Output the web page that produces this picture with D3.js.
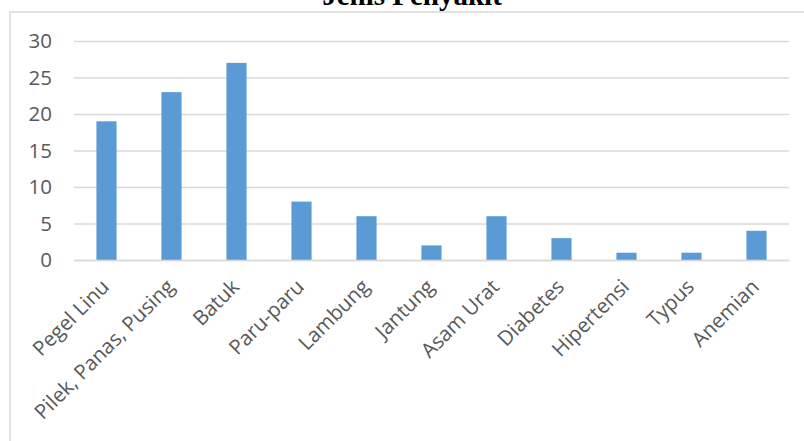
<!DOCTYPE html>
<html>
<head>
<meta charset="utf-8">
<script src="https://cdn.jsdelivr.net/npm/d3@7"></script>
<style>
  html, body { margin: 0; padding: 0; background: #fff; }
  svg { display: block; }
</style>
</head>
<body>
<svg id="chart" width="804" height="441"></svg>
<script>
// Jumlah kasus per jenis penyakit
const categories = ["Pegel Linu", "Pilek, Panas, Pusing", "Batuk", "Paru-paru", "Lambung",
  "Jantung", "Asam Urat", "Diabetes", "Hipertensi", "Typus", "Anemian"];
const values = [19, 23, 27, 8, 6, 2, 6, 3, 1, 1, 4];
const yTicks = [0, 5, 10, 15, 20, 25, 30];
const title = "Jenis Penyakit";

const svg = d3.select("#chart");
const W = 804, H = 441;
const plot = { left: 74, right: 789, top: 41, bottom: 260 };

// Chart area frame
svg.append("rect")
  .attr("x", 10).attr("y", 12)
  .attr("width", W + 10).attr("height", H + 10)
  .attr("fill", "#fff")
  .attr("stroke", "#d9d9d9").attr("stroke-width", 1.5);

// Title
svg.append("text")
  .attr("x", 412).attr("y", 5)
  .attr("text-anchor", "middle")
  .attr("font-family", "'Liberation Serif', 'Times New Roman', serif")
  .attr("font-weight", "bold")
  .attr("font-size", 29)
  .attr("fill", "#000")
  .text(title);

const x = d3.scaleBand()
  .domain(categories)
  .range([plot.left, plot.right])
  .paddingInner(0.69)
  .paddingOuter(0.345);

const y = d3.scaleLinear()
  .domain([0, 30])
  .range([plot.bottom, plot.top]);

// Horizontal gridlines
const yAxis = d3.axisLeft(y)
  .tickValues(yTicks)
  .tickSize(-(plot.right - plot.left))
  .tickPadding(22)
  .tickFormat(d3.format("d"));

const gy = svg.append("g")
  .attr("transform", `translate(${plot.left},0)`)
  .call(yAxis);
gy.select(".domain").remove();
gy.selectAll(".tick line")
  .attr("stroke", "#d9d9d9")
  .attr("stroke-width", 1.6);
gy.selectAll(".tick text")
  .attr("fill", "#595959")
  .attr("font-family", "'Open Sans', sans-serif")
  .attr("font-size", 20.5);

// Bars
svg.append("g")
  .selectAll("rect")
  .data(values)
  .join("rect")
  .attr("x", (d, i) => x(categories[i]))
  .attr("y", d => y(d))
  .attr("width", x.bandwidth())
  .attr("height", d => y(0) - y(d))
  .attr("fill", "#5b9bd5");

// Category axis
const xAxis = d3.axisBottom(x).tickSize(0).tickPadding(0);
const gx = svg.append("g")
  .attr("transform", `translate(0,${plot.bottom})`)
  .call(xAxis);
gx.select(".domain")
  .attr("stroke", "#d9d9d9")
  .attr("stroke-width", 1.6);
gx.selectAll(".tick text")
  .attr("fill", "#595959")
  .attr("font-family", "'Open Sans', sans-serif")
  .attr("font-size", 20.5)
  .attr("text-anchor", "end")
  .attr("dy", 0)
  .attr("transform", "translate(4,28) rotate(-45)");
</script>
</body>
</html>
